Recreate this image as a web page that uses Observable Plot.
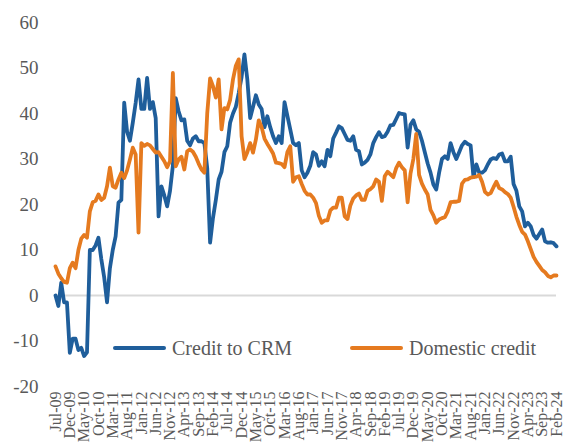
<!DOCTYPE html>
<html><head><meta charset="utf-8">
<script src="https://cdn.jsdelivr.net/npm/d3@7"></script>
<script src="https://cdn.jsdelivr.net/npm/@observablehq/plot@0.6"></script>
<style>
body{margin:0;background:#fff;}
#wrap{position:relative;width:565px;height:442px;font-family:"Liberation Serif","DejaVu Serif",serif;}
.leg{position:absolute;display:flex;align-items:center;height:22px;font-size:20px;color:#595959;white-space:nowrap;}
.sw{display:inline-block;width:53px;height:4px;margin-right:6px;border-radius:2px;}
</style></head><body><div id="wrap"></div>
<script>
const tickLabels = ["Jul-09","Dec-09","May-10","Oct-10","Mar-11","Aug-11","Jan-12","Jun-12","Nov-12","Apr-13","Sep-13","Feb-14","Jul-14","Dec-14","May-15","Oct-15","Mar-16","Aug-16","Jan-17","Jun-17","Nov-17","Apr-18","Sep-18","Feb-19","Jul-19","Dec-19","May-20","Oct-20","Mar-21","Aug-21","Jan-22","Jun-22","Nov-22","Apr-23","Sep-23","Feb-24"];
const yTicks = [-20,-10,0,10,20,30,40,50,60];
const seriesNames = ["Credit to CRM","Domestic credit"];
const seriesColors = ["#1F5E9B","#E57A1F"];

// monthly values, Jul-09 .. Feb-24
const creditCRM = [
0,-2.3,2.8,-1.5,-1.5,-12.6,-9.5,-9.5,-12,-11.5,
-13.3,-12.5,10,10,11,12.7,8,4,-1.5,6,
10,13,20.4,21,42.4,36,34,38,42.3,47.5,
41,41,47.8,41,42.5,39,17.4,24,22,19.6,
23,28.5,43.4,40.5,38.5,38.7,34,33,34.5,35,
33.9,33.9,33.5,28,11.6,17,21,25.5,27.2,31.5,
32.8,38,40,41.5,44.5,48,53,47.5,39,41.5,
44,42,41,37,39.4,37,35,33.5,35,33.5,
42.5,39.5,36.5,33.5,33,33.5,27.5,26,27,28.5,
31.5,31,28.5,29.5,28.4,32,30.6,34.5,35.8,37.2,
36.8,35.5,34.2,34,35,32,31.7,28.8,29.2,29.8,
31,33.5,34.8,35.9,34.8,35,36,37.4,37.5,38.8,
40.1,39.9,39.8,32.5,37.5,38.5,36.5,36,34,31.5,
29,27,24.4,23.3,27,30,30.6,30,33.5,31.5,
30,31.5,33,33.8,33.3,33,26,28.8,27,27,
27.5,28.8,29.9,30.2,30,31,31.2,29.5,29.5,30.5,
24.5,23,19.6,18.5,15.2,16,15.2,13.3,12.5,13.5,
14.5,11.9,11.6,11.7,11.5,10.8];
const domesticCredit = [
6.4,4.8,3.8,3,2.8,6,7.2,6,10,12.5,
13.3,12.7,18.5,20.5,20.8,22.2,21,21.5,24,28.1,
24,23.7,25.5,27,25.8,27.5,29.9,32.5,31,13.8,
33.5,32.9,33.3,33,32.2,31.4,31.5,30.5,29.5,28.2,
29.5,48.9,28.4,29.9,30.5,27.7,31.7,32.1,31.6,30.5,
29,27.7,27,40,47.7,46,43.5,47.5,36.5,41.2,
40.9,43,47.5,50.5,51.9,35,30,31.5,33.5,31.4,
34.3,38.5,37,34.5,33.3,32.3,31.2,29.2,29.1,28.9,
28.2,31.5,32.8,25,26,26.2,24.5,23,22.2,22.2,
21.5,20.3,17.5,16,16.5,16.5,18.7,19.3,19.3,21.5,
21.5,17.4,16.8,19.8,21.3,22,22.4,21,21,23,
23.4,24,25.5,25,20.8,26.2,27.2,26.6,26,28,
29.2,28.2,27.5,20.5,26.8,30,35.5,26.5,24.6,23.3,
22.2,18.8,17.6,16,16.7,17,17.2,18.5,20.5,20.6,
20.6,20.8,24.6,25.4,25.5,25.9,26,26.1,26.5,25,
22.8,22.2,22.5,23.8,25,23.6,23.3,22.7,22.3,21.5,
19.5,17.3,15.5,14,13.4,11.9,10.2,8.5,7.4,6.5,
5.6,5.1,4.3,4,4.4,4.4];

const tickPos = tickLabels.map((_, k) => k * 5);
const idx = (d, i) => i;

const chart = Plot.plot({
  width: 565, height: 442,
  marginLeft: 55, marginRight: 9, marginTop: 22, marginBottom: 56,
  style: {fontFamily: '"Liberation Serif","DejaVu Serif",serif', color: "#595959", background: "transparent", overflow: "visible"},
  x: {domain: [0, creditCRM.length - 1], axis: null},
  y: {domain: [-20, 60], axis: null},
  marks: [
    Plot.ruleY([0], {stroke: "#d9d9d9", strokeWidth: 2}),
    Plot.axisY(yTicks, {tickSize: 0, tickPadding: 17, fontSize: 19, fill: "#595959", tickFormat: d => String(d), label: null}),
    Plot.axisX(tickPos, {tickSize: 0, tickPadding: 5, tickRotate: -90, fontSize: 16, fill: "#595959", tickFormat: d => tickLabels[d / 5], label: null}),
    Plot.line(creditCRM, {x: idx, y: d => d, stroke: seriesColors[0], strokeWidth: 3.8}),
    Plot.line(domesticCredit, {x: idx, y: d => d, stroke: seriesColors[1], strokeWidth: 3.8})
  ]
});
const wrap = document.getElementById("wrap");
wrap.appendChild(chart);

const legPos = [[113, 337], [350, 337]];
seriesNames.forEach((name, k) => {
  const el = document.createElement("div");
  el.className = "leg";
  el.style.left = legPos[k][0] + "px";
  el.style.top = legPos[k][1] + "px";
  el.innerHTML = `<span class="sw" style="background:${seriesColors[k]}"></span><span>${name}</span>`;
  wrap.appendChild(el);
});
</script>
</body></html>
